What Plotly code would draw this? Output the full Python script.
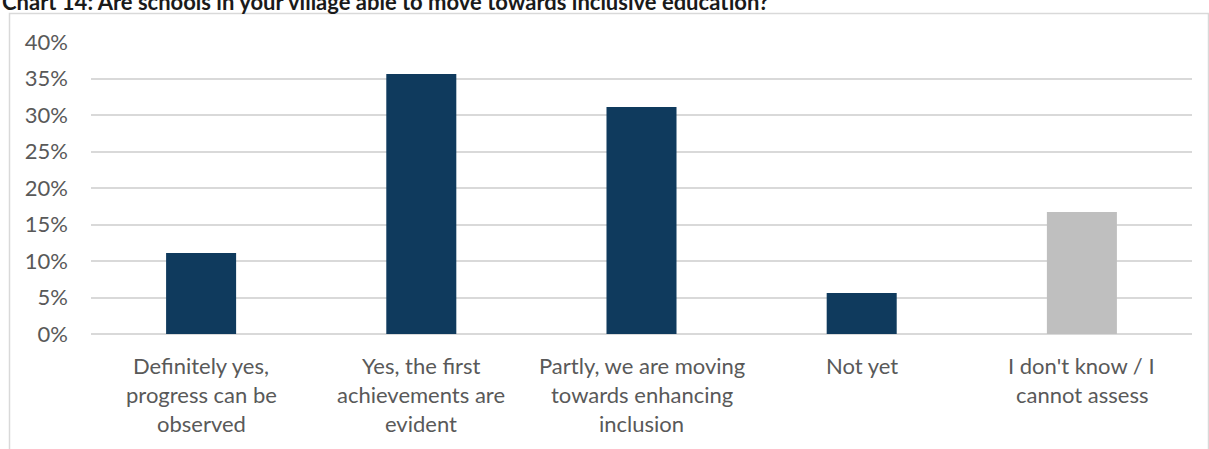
import plotly.graph_objects as go

# Survey answers and shares of respondents (%)
categories = [
    "Definitely yes, progress can be observed",
    "Yes, the first achievements are evident",
    "Partly, we are moving towards enhancing inclusion",
    "Not yet",
    "I don't know / I cannot assess",
]
label_lines = [
    ["Definitely yes,", "progress can be", "observed"],
    ["Yes, the first", "achievements are", "evident"],
    ["Partly, we are moving", "towards enhancing", "inclusion"],
    ["Not yet"],
    ["I don't know / I", "cannot assess"],
]
shares = [11.1, 35.6, 31.1, 5.6, 16.7]
bar_colors = ["#0F3A5D", "#0F3A5D", "#0F3A5D", "#0F3A5D", "#BFBFBF"]
y_ticks = [0, 5, 10, 15, 20, 25, 30, 35, 40]
y_tick_labels = ["0%", "5%", "10%", "15%", "20%", "25%", "30%", "35%", "40%"]
title_text = "Chart 14: Are schools in your village able to move towards inclusive education?"

W, H = 1209, 449
ML, MR, MT, MB = 91, 17, 42, 114.5
PW, PH = W - ML - MR, H - MT - MB


def px_x(px):
    return (px - ML) / PW


def px_y(py):
    return (H - MB - py) / PH


label_font = dict(family="Lato, Carlito, Calibri, sans-serif", size=22, color="#595959")

fig = go.Figure(
    go.Bar(
        x=categories,
        y=shares,
        marker=dict(color=bar_colors, line=dict(width=0)),
        width=0.318,
        hoverinfo="x+y",
    )
)

annotations = [
    dict(
        text="<b>" + title_text + "</b>",
        xref="paper", yref="paper",
        x=px_x(0), y=px_y(1),
        xanchor="left", yanchor="middle",
        showarrow=False,
        font=dict(family="Lato, Carlito, Calibri, sans-serif", size=22, color="#1A1A1A"),
    )
]
line_centres = [366, 395, 424]
for cat, lines in zip(categories, label_lines):
    for i, line in enumerate(lines):
        annotations.append(
            dict(
                text=line,
                xref="x", yref="paper",
                x=cat, y=px_y(line_centres[i]),
                xanchor="center", yanchor="middle",
                showarrow=False,
                font=label_font,
            )
        )

fig.update_layout(
    width=W,
    height=H,
    margin=dict(l=ML, r=MR, t=MT, b=MB, pad=0),
    paper_bgcolor="white",
    plot_bgcolor="white",
    showlegend=False,
    bargap=0.682,
    annotations=annotations,
    shapes=[
        dict(
            type="rect",
            xref="paper", yref="paper",
            x0=px_x(9.5), x1=px_x(1208.5),
            y0=px_y(460), y1=px_y(13.5),
            line=dict(color="#D9D9D9", width=1.5),
            fillcolor="rgba(0,0,0,0)",
            layer="below",
        )
    ],
    xaxis=dict(
        type="category",
        showticklabels=False,
        showgrid=False,
        zeroline=False,
        showline=False,
        ticks="",
    ),
    yaxis=dict(
        range=[0, 40],
        tickmode="array",
        tickvals=y_ticks,
        ticktext=y_tick_labels,
        showgrid=True,
        gridcolor="#D9D9D9",
        gridwidth=1.5,
        zeroline=True,
        zerolinecolor="#D9D9D9",
        zerolinewidth=1.5,
        showline=False,
        ticks="",
        ticklabelstandoff=22,
        tickfont=label_font,
    ),
)

fig.write_html("out.html")
